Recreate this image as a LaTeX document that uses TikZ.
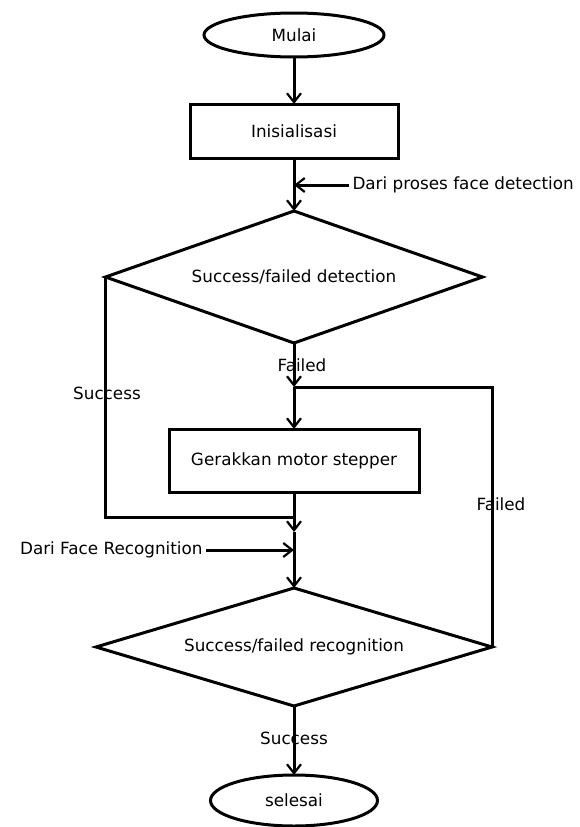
\documentclass[tikz,border=0pt]{standalone}
\usepackage{fontspec}
\setmainfont{DejaVu Sans}
\usetikzlibrary{arrows.meta,positioning,shapes.geometric}
\newcommand{\flowfont}{\fontsize{16.8}{20}\selectfont}
\tikzset{
  terminal/.style={ellipse,draw,minimum width=180pt,minimum height=44pt,inner sep=1pt,outer sep=0pt,font=\flowfont},
  process/.style={rectangle,draw,minimum width=208pt,minimum height=54pt,outer sep=0pt,font=\flowfont},
  decision/.style={diamond,draw,aspect=2.856,minimum width=377pt,minimum height=132pt,inner sep=0pt,outer sep=0pt,font=\flowfont},
  lbl/.style={font=\flowfont,inner sep=2pt},
}

\begin{document}
\begin{tikzpicture}[>={Straight Barb[length=9pt,width=14pt,line width=2.2pt]},line width=3pt,x=1pt,y=-1pt]
  \useasboundingbox (0,0) rectangle (579,827);
  \node[terminal] (mulai) at (294,35) {Mulai};
  \node[process,below=47pt of mulai] (init) {Inisialisasi};
  \node[decision,below=53pt of init] (detect) {Success/failed detection};
  \coordinate[below=27pt of init] (dp);
  \coordinate[below=44pt of detect] (loop);
  \node[process,minimum width=250pt,minimum height=63pt,below=42pt of loop] (gerak) {Gerakkan motor stepper};
  \coordinate[below=25pt of gerak] (succ);
  \coordinate[below=40pt of gerak] (join);
  \coordinate[below=58pt of gerak] (fr);
  \node[decision,aspect=3.356,minimum width=396pt,minimum height=118pt,below=96pt of gerak] (recog) {Success/failed recognition};
  \node[terminal,minimum width=167pt,minimum height=51pt,below=69pt of recog] (selesai) {selesai};
  \node[lbl,right=55pt of dp] (dptxt) {Dari proses face detection};
  \node[lbl,left=88pt of fr] (frtxt) {Dari Face Recognition};
  % connectors
  \draw[->] (mulai) -- (init);
  \draw[->] (init) -- (detect);
  \draw[->] (dptxt) -- (dp);
  \draw[->] (detect) -- (loop);
  \draw[->] (loop) -- (gerak);
  \draw (recog.east) |- (loop);
  \draw (detect.west) |- (succ);
  \draw[->] (gerak) -- (join);
  \draw[->] (join) -- (recog);
  \draw[->] (frtxt) -- (fr);
  \draw[->] (recog) -- (selesai);
  % labels
  \node[lbl] (failA) at ([xshift=8pt,yshift=-22pt]detect.south) {Failed};
  \node[lbl] (succA) at ([xshift=1.5pt,yshift=-116pt]detect.west) {Success};
  \node[lbl] (failB) at ([xshift=9pt,yshift=143pt]recog.east) {Failed};
  \node[lbl] (succB) at ([yshift=-32pt]recog.south) {Success};
\end{tikzpicture}
\end{document}
